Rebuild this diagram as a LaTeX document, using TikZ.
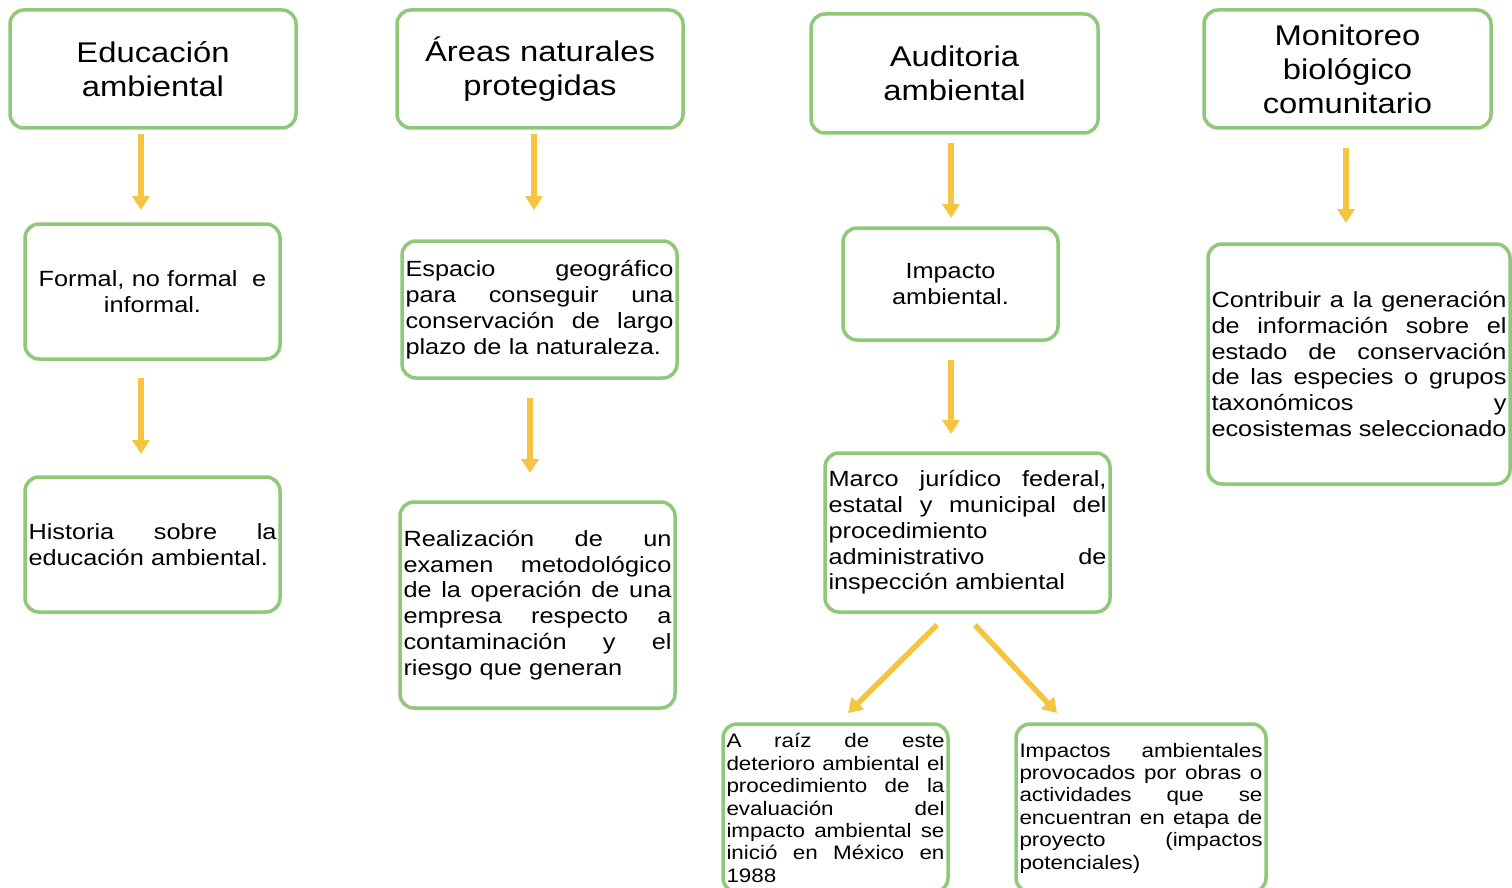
\documentclass[tikz,border=0pt]{standalone}
\usepackage{fontspec}
\setmainfont[FakeStretch=1.15]{Liberation Sans}
\usetikzlibrary{arrows.meta}
\definecolor{bgreen}{RGB}{143,200,120}
\definecolor{ayellow}{RGB}{245,197,66}
\newcommand{\jl}[1]{\leavevmode\hbox to \hsize{\spaceskip=0.278em plus 10em minus 0.05em\relax #1}}
\begin{document}
\begin{tikzpicture}[x=1pt,y=-1pt,
  box/.style={draw=bgreen, line width=3.5pt, rounded corners=14pt, fill=white, inner xsep=3.5pt, inner ysep=0pt, outer sep=0pt, align=left},
  ttl/.style={box, align=center, font=\fontsize{28.5}{34}\selectfont},
  body/.style={font=\fontsize{22}{25.8}\selectfont},
  small/.style={font=\fontsize{19.5}{22.4}\selectfont},
  arr/.style={draw=ayellow, line width=5.5pt, -{Triangle[width=17pt,length=14pt]}}
]
\fill[white] (0,0) rectangle (1512,888);
\useasboundingbox (0,0) rectangle (1512,888);

% titles
\node[ttl, minimum width=286pt, minimum height=118pt, text width=279pt] (t1) at (153,69) {Educación\\ambiental};
\node[ttl, minimum width=286pt, minimum height=118pt, text width=279pt] (t2) at (540,69) {Áreas naturales\\protegidas};
\node[ttl, minimum width=287pt, minimum height=119pt, text width=280pt] (t3) at (954.5,73.5) {Auditoria\\ambiental};
\node[ttl, minimum width=287pt, minimum height=118pt, text width=280pt] (t4) at (1347.5,69) {Monitoreo\\biológico\\comunitario};

% column 1
\node[box, body, align=center, minimum width=255pt, minimum height=135pt, text width=248pt] (b11) at (152.5,291.5) {Formal, no formal~ e\\informal.};
\node[box, body, minimum width=255pt, minimum height=135pt, text width=248pt] (b12) at (152.5,544.5) {\jl{Historia sobre la}\\\mbox{educación ambiental.}};

% column 2
\node[box, body, minimum width=275pt, minimum height=137pt, text width=268pt] (b21) at (539.5,309.5) {\jl{Espacio geográfico}\\\jl{para conseguir una}\\\jl{conservación de largo}\\\mbox{plazo de la naturaleza.}};
\node[box, body, minimum width=275pt, minimum height=206pt, text width=268pt] (b22) at (537.5,605) {\jl{Realización de un}\\\jl{examen metodológico}\\\jl{de la operación de una}\\\jl{empresa respecto a}\\\jl{contaminación y el}\\\mbox{riesgo que generan}};

% column 3
\node[box, body, align=center, minimum width=215pt, minimum height=112pt, text width=208pt] (b31) at (950.5,284) {Impacto\\ambiental.};
\node[box, body, minimum width=285pt, minimum height=159pt, text width=278pt] (b32) at (967.5,532.5) {\jl{Marco jurídico federal,}\\\jl{estatal y municipal del}\\\mbox{procedimiento}\\\jl{administrativo de}\\\mbox{inspección ambiental}};
\node[box, small, minimum width=225pt, minimum height=168pt, text width=218pt] (b33) at (835.5,808) {\jl{A raíz de este}\\\jl{deterioro ambiental el}\\\jl{procedimiento de la}\\\jl{evaluación del}\\\jl{impacto ambiental se}\\\jl{inició en México en}\\\mbox{1988}};
\node[box, small, minimum width=250pt, minimum height=168pt, text width=243pt] (b34) at (1141,808) {\jl{Impactos ambientales}\\\jl{provocados por obras o}\\\jl{actividades que se}\\\jl{encuentran en etapa de}\\\jl{proyecto (impactos}\\\mbox{potenciales)}};

% column 4
\node[box, body, minimum width=302pt, minimum height=240pt, text width=295pt] (b41) at (1359,364) {\jl{Contribuir a la generación}\\\jl{de información sobre el}\\\jl{estado de conservación}\\\jl{de las especies o grupos}\\\jl{taxonómicos y}\\\jl{ecosistemas seleccionado}};

% arrows
\draw[arr] ([shift={(-12,6)}]t1.south) -- ([shift={(-11.5,-14)}]b11.north);
\draw[arr] ([shift={(-11.5,19)}]b11.south) -- ([shift={(-11.5,-23)}]b12.north);
\draw[arr] ([shift={(-6,6)}]t2.south) -- ([shift={(-5.5,-31)}]b21.north);
\draw[arr] ([shift={(-9.5,20)}]b21.south) -- ([shift={(-7.5,-29)}]b22.north);
\draw[arr] ([shift={(-3.5,10)}]t3.south) -- ([shift={(0.5,-10)}]b31.north);
\draw[arr] ([shift={(0.5,20)}]b31.south) -- ([shift={(-16.5,-19)}]b32.north);
\draw[arr] ([shift={(-1.5,20)}]t4.south) -- ([shift={(-13,-21)}]b41.north);
\draw[arr] ([shift={(-30.5,13)}]b32.south) -- ([shift={(12.5,-11)}]b33.north);
\draw[arr] ([shift={(7.5,13)}]b32.south) -- ([shift={(-84,-11)}]b34.north);
\end{tikzpicture}
\end{document}
